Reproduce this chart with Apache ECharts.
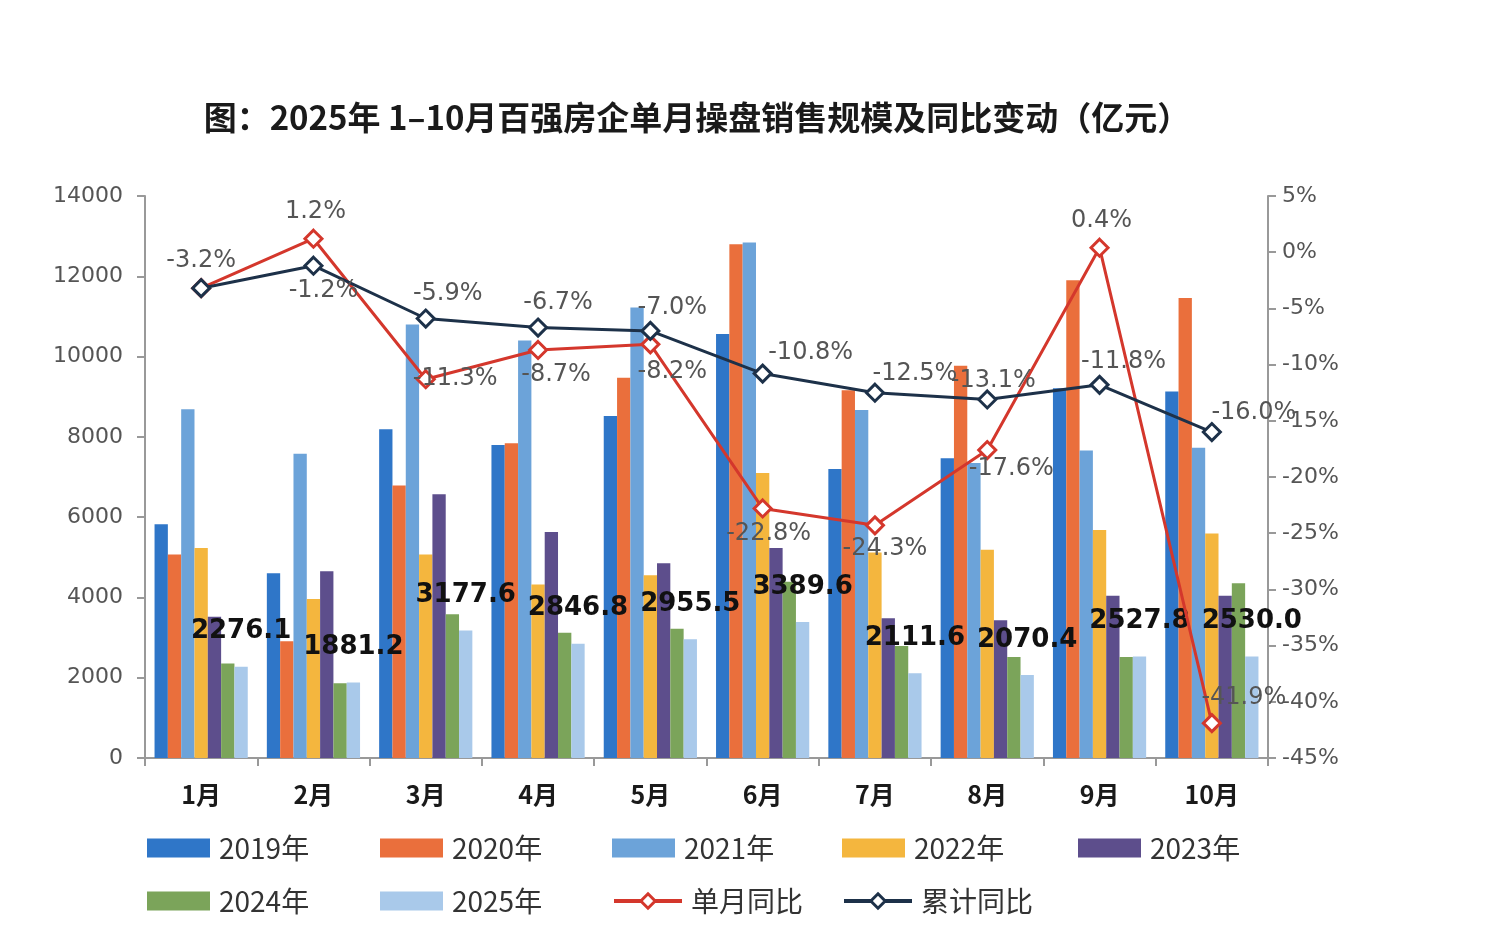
<!DOCTYPE html>
<html>
<head>
<meta charset="utf-8"/>
<script src="https://cdn.jsdelivr.net/npm/echarts@6/dist/echarts.min.js"></script>
<style>
  html, body { margin: 0; padding: 0; background: #fff; }
  #main { width: 1509px; height: 938px; }
</style>
</head>
<body>
<div id="main"></div>
<script>
// 月份
var months = ['1月', '2月', '3月', '4月', '5月', '6月', '7月', '8月', '9月', '10月'];

// 各年单月操盘销售规模（亿元），按图估读；2025 为图中标注值
var y2019 = [5820, 4600, 8190, 7800, 8520, 10560, 7200, 7470, 9210, 9130];
var y2020 = [5070, 2910, 6790, 7840, 9470, 12800, 9160, 9770, 11900, 11460];
var y2021 = [8690, 7580, 10800, 10400, 11220, 12840, 8670, 7350, 7660, 7730];
var y2022 = [5230, 3960, 5070, 4320, 4550, 7100, 5120, 5190, 5680, 5590];
var y2023 = [3520, 4650, 6570, 5630, 4850, 5230, 3480, 3430, 4040, 4040];
var y2024 = [2351, 1859, 3582, 3118, 3220, 4391, 2789, 2513, 2518, 4355];
var y2025 = [2276.1, 1881.2, 3177.6, 2846.8, 2955.5, 3389.6, 2111.6, 2070.4, 2527.8, 2530.0];

// 同比（%）
var monthYoy = [-3.2, 1.2, -11.3, -8.7, -8.2, -22.8, -24.3, -17.6, 0.4, -41.9];
var cumYoy = [-3.2, -1.2, -5.9, -6.7, -7.0, -10.8, -12.5, -13.1, -11.8, -16.0];

var leftTicks = [0, 2000, 4000, 6000, 8000, 10000, 12000, 14000];
var rightTicks = [-45, -40, -35, -30, -25, -20, -15, -10, -5, 0, 5];

var barNames = ['2019年', '2020年', '2021年', '2022年', '2023年', '2024年', '2025年'];
var barData = [y2019, y2020, y2021, y2022, y2023, y2024, y2025];
var barColors = ['#2f76c8', '#ea6f3c', '#6ca3d9', '#f4b63e', '#5d4e8c', '#7ba45a', '#a9c9ea'];

// 标签位置（每个点单独微调）
var monthLabelPos = [
  ['top', [0, 0]], ['top', [2, 0]], ['right', [-28, 0]], ['bottom', [18, -2]], ['bottom', [22, 0]],
  ['bottom', [6, -2]], ['bottom', [10, -4]], ['bottom', [24, -8]], ['top', [2, 0]], ['top', [32, 2]]
];
var cumLabelPos = [
  null, ['bottom', [10, -2]], ['top', [22, 2]], ['top', [20, 2]], ['top', [22, 4]],
  ['top', [48, 6]], ['top', [40, 8]], ['top', [6, 8]], ['top', [24, 4]], ['top', [42, 8]]
];

function lineData(vals, pos) {
  var out = [];
  for (var i = 0; i < vals.length; i++) {
    var item = { value: vals[i] };
    if (pos[i]) {
      item.label = { show: true, position: pos[i][0], offset: pos[i][1] };
    } else {
      item.label = { show: false };
    }
    out.push(item);
  }
  return out;
}

var pctLabel = {
  show: true,
  color: '#555',
  fontSize: 24,
  fontFamily: 'DejaVu Sans',
  formatter: function (p) { return p.value.toFixed(1) + '%'; }
};

var series = [];
for (var i = 0; i < barNames.length; i++) {
  var s = {
    name: barNames[i],
    type: 'bar',
    data: barData[i],
    barGap: '0%',
    barCategoryGap: '17%',
    itemStyle: { color: barColors[i] },
    z: 2
  };
  if (i === 6) {
    s.label = {
      show: true,
      position: 'top',
      distance: 22,
      color: '#111',
      fontSize: 26,
      fontWeight: 'bold',
      fontFamily: 'DejaVu Sans',
      formatter: function (p) { return p.value.toFixed(1); }
    };
  }
  series.push(s);
}

series.push({
  name: '单月同比',
  type: 'line',
  yAxisIndex: 1,
  data: lineData(monthYoy, monthLabelPos),
  symbol: 'diamond',
  symbolSize: 17,
  lineStyle: { color: '#d4372c', width: 3 },
  itemStyle: { color: '#fff', borderColor: '#d4372c', borderWidth: 3 },
  label: pctLabel,
  z: 5
});
series.push({
  name: '累计同比',
  type: 'line',
  yAxisIndex: 1,
  data: lineData(cumYoy, cumLabelPos),
  symbol: 'diamond',
  symbolSize: 17,
  lineStyle: { color: '#1d3149', width: 3 },
  itemStyle: { color: '#fff', borderColor: '#1d3149', borderWidth: 3 },
  label: pctLabel,
  z: 6
});

// 图例：每项单独定位，排成两行
var legendNames = ['2019年', '2020年', '2021年', '2022年', '2023年', '2024年', '2025年', '单月同比', '累计同比'];
var legendCols = [142, 375, 607, 837, 1073];
var legends = [];
for (var k = 0; k < legendNames.length; k++) {
  var isLine = k >= 7;
  legends.push({
    data: [{ name: legendNames[k], icon: isLine ? undefined : 'rect' }],
    left: legendCols[k % 5],
    top: k < 5 ? 829 : 882,
    itemWidth: isLine ? 68 : 63,
    itemHeight: isLine ? 18 : 19,
    itemGap: 0,
    selectedMode: false,
    lineStyle: { width: 4 },
    itemStyle: { borderWidth: 3 },
    textStyle: { fontSize: 28, color: '#333', fontFamily: 'Noto Sans CJK SC', padding: [0, 0, 0, 4] }
  });
}

var chart = echarts.init(document.getElementById('main'), null, { renderer: 'canvas' });
chart.setOption({
  animation: false,
  backgroundColor: '#fff',
  title: {
    text: '图：2025年 1–10月百强房企单月操盘销售规模及同比变动（亿元）',
    left: 692,
    textAlign: 'center',
    top: 96,
    textStyle: { fontSize: 33, fontWeight: 'bold', color: '#1a1a1a', fontFamily: 'Noto Sans CJK SC' }
  },
  legend: legends,
  grid: { left: 145, right: 241, top: 196, bottom: 180 },
  xAxis: {
    type: 'category',
    data: months,
    axisLine: { lineStyle: { color: '#999', width: 2 } },
    axisTick: { show: true, alignWithLabel: false, length: 8, lineStyle: { color: '#999', width: 2 } },
    axisLabel: { fontSize: 25, fontWeight: 'bold', color: '#1a1a1a', margin: 24, fontFamily: 'Noto Sans CJK SC' }
  },
  yAxis: [
    {
      type: 'value',
      min: leftTicks[0],
      max: leftTicks[leftTicks.length - 1],
      interval: 2000,
      axisLine: { show: true, lineStyle: { color: '#999', width: 2 } },
      axisTick: { show: true, length: 8, lineStyle: { color: '#999', width: 2 } },
      splitLine: { show: false },
      axisLabel: {
        fontSize: 22, color: '#555', margin: 22, fontFamily: 'DejaVu Sans',
        formatter: function (v) { return String(v); }
      }
    },
    {
      type: 'value',
      min: rightTicks[0],
      max: rightTicks[rightTicks.length - 1],
      interval: 5,
      position: 'right',
      axisLine: { show: true, lineStyle: { color: '#999', width: 2 } },
      axisTick: { show: true, length: 8, lineStyle: { color: '#999', width: 2 } },
      splitLine: { show: false },
      axisLabel: {
        fontSize: 22, color: '#555', margin: 14, fontFamily: 'DejaVu Sans',
        formatter: function (v) { return v + '%'; }
      }
    }
  ],
  series: series
});
</script>
</body>
</html>
